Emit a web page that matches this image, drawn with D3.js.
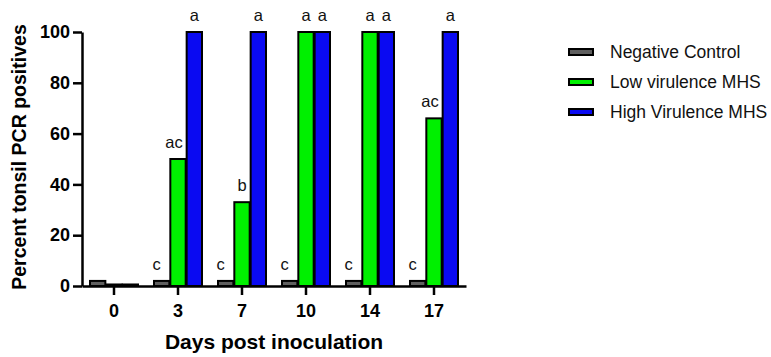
<!DOCTYPE html>
<html>
<head>
<meta charset="utf-8">
<title>Tonsil PCR</title>
<script src="https://cdn.jsdelivr.net/npm/d3@7"></script>
<style>
  body { margin: 0; background: #fff; }
  text { font-family: "Liberation Sans", Arial, sans-serif; }
</style>
</head>
<body>
<div id="chart"></div>
<script>
// data
const days = ["0", "3", "7", "10", "14", "17"];
const seriesNames = ["Negative Control", "Low virulence MHS", "High Virulence MHS"];
const negControl = [2, 2, 2, 2, 2, 2];
const lowVir = [0.6, 50, 33, 100, 100, 66];
const highVir = [0.6, 100, 100, 100, 100, 100];
// significance letters above each bar
const negLetters = ["", "c", "c", "c", "c", "c"];
const lowLetters = ["", "ac", "b", "a", "a", "ac"];
const highLetters = ["", "a", "a", "a", "a", "a"];
const yTicks = [0, 20, 40, 60, 80, 100];

const colors = ["#5f5f5f", "#00f000", "#0a0af2"];
const values = [negControl, lowVir, highVir];
const letters = [negLetters, lowLetters, highLetters];

const width = 771, height = 357;
const svg = d3.select("#chart").append("svg")
  .attr("width", width).attr("height", height);

const x = d3.scaleBand().domain(days).range([82, 466]);
const xs = d3.scaleBand().domain(d3.range(3)).range([-24, 24]).paddingInner(0.06);
const y = d3.scaleLinear().domain([0, 100]).range([286, 32]);

// bars
values.forEach(function(vals, s) {
  svg.append("g").selectAll("rect")
    .data(vals)
    .enter().append("rect")
    .attr("x", (d, i) => x(days[i]) + x.bandwidth() / 2 + xs(s))
    .attr("y", d => y(d))
    .attr("width", xs.bandwidth())
    .attr("height", d => y(0) - y(d))
    .attr("fill", colors[s])
    .attr("stroke", "#000")
    .attr("stroke-width", 2);

  svg.append("g").selectAll("text")
    .data(letters[s])
    .enter().append("text")
    .attr("x", (d, i) => x(days[i]) + x.bandwidth() / 2 + xs(s) + xs.bandwidth() / 2 - (s === 0 ? 5 : (d.length > 1 ? 4 : 0)))
    .attr("y", (d, i) => y(vals[i]) - 11)
    .attr("text-anchor", "middle")
    .attr("font-size", "16.5px")
    .attr("fill", "#111")
    .text(d => d);
});

// axes
const yAxis = d3.axisLeft(y).tickValues(yTicks).tickSize(9).tickSizeOuter(0);
const gy = svg.append("g").attr("transform", "translate(82,0)").call(yAxis);
gy.select(".domain").attr("stroke-width", 2.5);
gy.selectAll(".tick line").attr("stroke-width", 2.5);
gy.selectAll(".tick text").attr("font-size", "18px").attr("font-weight", "bold")
  .attr("font-family", "Liberation Sans, Arial, sans-serif").attr("x", -12);

const xAxis = d3.axisBottom(x).tickSize(9).tickSizeOuter(0);
const gx = svg.append("g").attr("transform", "translate(0,286)").call(xAxis);
gx.select(".domain").attr("stroke-width", 2.5);
gx.selectAll(".tick line").attr("stroke-width", 2.5);
gx.selectAll(".tick text").attr("font-size", "18px").attr("font-weight", "bold")
  .attr("font-family", "Liberation Sans, Arial, sans-serif").attr("dy", "1.05em");

// axis titles
svg.append("text")
  .attr("x", 274).attr("y", 349)
  .attr("text-anchor", "middle")
  .attr("font-size", "21px").attr("font-weight", "bold")
  .text("Days post inoculation");

svg.append("text")
  .attr("transform", "translate(26,157) rotate(-90)")
  .attr("text-anchor", "middle")
  .attr("font-size", "19.5px").attr("font-weight", "bold")
  .text("Percent tonsil PCR positives");

// legend
const legend = svg.append("g").selectAll("g")
  .data(seriesNames)
  .enter().append("g")
  .attr("transform", (d, i) => "translate(568," + (52 + i * 30) + ")");
legend.append("rect")
  .attr("x", 1).attr("y", -3).attr("width", 24).attr("height", 6)
  .attr("fill", (d, i) => colors[i])
  .attr("stroke", "#000").attr("stroke-width", 2);
legend.append("text")
  .attr("x", 42).attr("y", 6)
  .attr("font-size", "17.5px")
  .attr("fill", "#111")
  .text(d => d);
</script>
</body>
</html>
